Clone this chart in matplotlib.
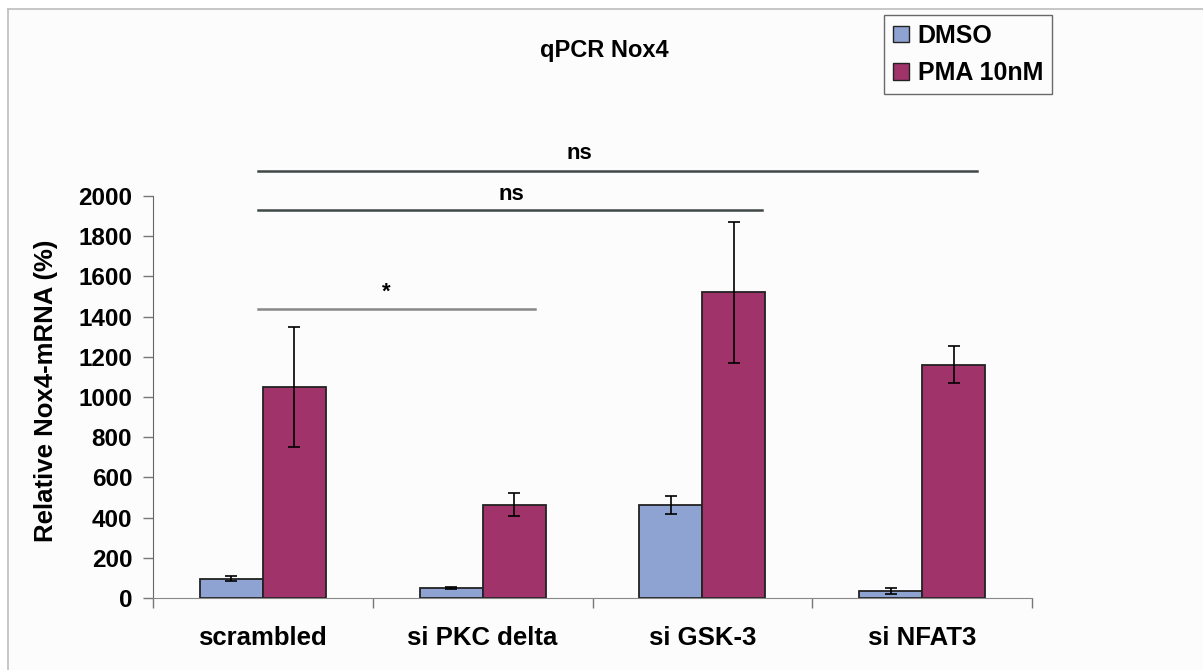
import matplotlib
matplotlib.use("Agg")
import matplotlib.pyplot as plt
import numpy as np
from matplotlib.patches import Patch, Rectangle
from matplotlib.lines import Line2D

plt.rcParams['font.family'] = ['Liberation Sans', 'DejaVu Sans']
plt.rcParams['font.weight'] = 'bold'

categories = ["scrambled", "si PKC delta", "si GSK-3", "si NFAT3"]
series_names = ["DMSO", "PMA 10nM"]
dmso_values = [95, 48, 463, 35]
dmso_errors = [12, 5, 46, 16]
pma_values = [1050, 464, 1520, 1160]
pma_errors = [300, 58, 350, 92]
y_ticks = [0, 200, 400, 600, 800, 1000, 1200, 1400, 1600, 1800, 2000]

# significance brackets: (x start, x end, y level, label, label x, label y)
sig_brackets = [
    (-0.02, 1.24, 1440, "*", 0.56, 1522),
    (-0.02, 2.27, 1930, "ns", 1.13, 2008),
    (-0.02, 3.25, 2126, "ns", 1.44, 2210),
]

W, H = 1203, 670
fig = plt.figure(figsize=(W / 100, H / 100), dpi=100)
bg = "#fcfcfc"
fig.patch.set_facecolor(bg)

# white margin outside the page frame, then the frame lines (top and left)
fig.add_artist(Rectangle((0, 1 - 9 / H), 1, 9 / H, transform=fig.transFigure,
                         facecolor="white", edgecolor="none", zorder=0))
fig.add_artist(Rectangle((0, 0), 8 / W, 1, transform=fig.transFigure,
                         facecolor="white", edgecolor="none", zorder=0))
fig.add_artist(Line2D([8 / W, 1.0], [1 - 9 / H, 1 - 9 / H],
                      color="#bdbdbd", lw=1.2, transform=fig.transFigure))
fig.add_artist(Line2D([8 / W, 8 / W], [0.0, 1 - 9 / H],
                      color="#bdbdbd", lw=1.2, transform=fig.transFigure))

ax = fig.add_axes([153 / W, 1 - 598 / H, 879 / W, 402 / H])
ax.set_facecolor(bg)

x = np.arange(len(categories))
w = 0.287
blue = "#8fa3d3"
berry = "#a0336a"
edge = "#222222"

ax.bar(x - w / 2, dmso_values, w, color=blue, edgecolor=edge, linewidth=1.3, zorder=2)
ax.bar(x + w / 2, pma_values, w, color=berry, edgecolor=edge, linewidth=1.3, zorder=2)
ax.errorbar(x - w / 2, dmso_values, yerr=dmso_errors, fmt="none", ecolor="black",
            elinewidth=1.2, capsize=4, capthick=1.2, zorder=3)
ax.errorbar(x + w / 2, pma_values, yerr=pma_errors, fmt="none", ecolor="black",
            elinewidth=1.2, capsize=4, capthick=1.2, zorder=3)

ax.set_xlim(-0.5, len(categories) - 0.5)
ax.set_ylim(0, 2000)
ax.set_yticks(y_ticks)
ax.set_yticklabels([str(v) for v in y_ticks], fontsize=17.5, fontweight="bold")
ax.set_xticks(x)
ax.set_xticklabels(categories, fontsize=18.5, fontweight="bold")
ax.tick_params(axis="x", length=0, pad=20)
ax.set_xticks(np.arange(-0.5, len(categories)), minor=True)
ax.tick_params(axis="x", which="minor", length=7, width=1, color="#777777", direction="out")
ax.tick_params(axis="y", length=7, width=1, color="#777777", direction="out", pad=8)

for side in ["top", "right"]:
    ax.spines[side].set_visible(False)
ax.spines["left"].set_color("#666666")
ax.spines["bottom"].set_color("#888888")

ax.set_ylabel("Relative Nox4-mRNA (%)", fontsize=18.5, fontweight="bold")
ax.yaxis.set_label_coords(-0.108, 0.515)

for x0, x1, yl, lab, lx, ly in sig_brackets:
    col = "#404848" if lab == "ns" else "#888888"
    ax.plot([x0, x1], [yl, yl], color=col, lw=1.8, clip_on=False, zorder=1)
    ax.text(lx, ly, lab, ha="center", va="center", fontsize=16, fontweight="bold",
            clip_on=False)

fig.text(604 / W, 1 - 50 / H, "qPCR Nox4", ha="center", va="center",
         fontsize=17, fontweight="bold")

handles = [Patch(facecolor=blue, edgecolor=edge, linewidth=1.0),
           Patch(facecolor=berry, edgecolor=edge, linewidth=1.0)]
leg = fig.legend(handles, series_names, loc="upper left",
                 bbox_to_anchor=(884 / W, 1 - 15 / H),
                 prop={"size": 18, "weight": "bold"},
                 frameon=True, fancybox=False, edgecolor="#444444",
                 handlelength=0.65, handleheight=0.65, handletextpad=0.35,
                 borderpad=0.35, labelspacing=0.55, borderaxespad=0)
leg.get_frame().set_linewidth(1.0)
leg.get_frame().set_facecolor(bg)

fig.savefig("out.png", dpi=100, facecolor=fig.get_facecolor())
